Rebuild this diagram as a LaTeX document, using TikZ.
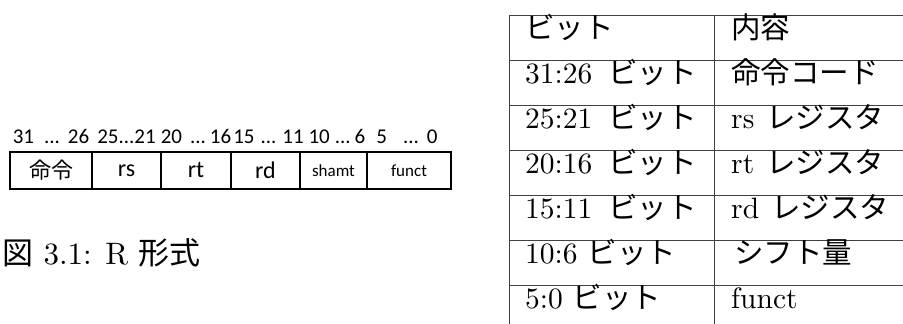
\documentclass[tikz,border=0pt]{standalone}
\usepackage{fontspec}
\setmainfont{lmroman10-regular.otf}
\newfontfamily\jpfont{Noto Sans CJK JP}
\newfontfamily\calfont{Carlito}
\newcommand\ja[1]{{\jpfont #1}}
\newcommand\gap[1]{\hspace{#1pt}}
\usetikzlibrary{positioning}

\begin{document}
\begin{tikzpicture}[x=1pt, y=1pt,
  field/.style={rectangle, draw, line width=1.8pt, minimum height=37pt, inner sep=0pt, outer sep=0pt, font=\calfont\fontsize{24}{28}\selectfont},
  smallfield/.style={field, font=\calfont\fontsize{17}{20}\selectfont},
  bitlabel/.style={inner sep=0pt, font=\calfont\fontsize{21}{24}\selectfont},
  cell/.style={anchor=base west, inner sep=0pt, font=\fontsize{29.5}{34}\selectfont},
  rule/.style={line width=0.9pt, black!75},
]
  \useasboundingbox (0,0) rectangle (903,324);
  % R-format fields
  \node[field, minimum width=82pt, font=\jpfont\fontsize{22}{24}\selectfont] (op) at (51,153.5) {命令};
  \node[field, minimum width=69pt, right=0pt of op] (rs) {rs};
  \node[field, minimum width=70pt, right=0pt of rs] (rt) {rt};
  \node[field, minimum width=69pt, right=0pt of rt] (rd) {rd};
  \node[smallfield, minimum width=67pt, right=0pt of rd] (shamt) {shamt};
  \node[smallfield, minimum width=84pt, right=0pt of shamt] (funct) {funct};
  % bit ranges
  \node[bitlabel, above=8pt of op] (b-op) {31\gap{10}...\gap{8}26};
  \node[bitlabel, above=8pt of rs] (b-rs) {25...21};
  \node[bitlabel, above=8pt of rt] (b-rt) {20\gap{8}...\gap{4}16};
  \node[bitlabel, above=8pt of rd, xshift=3pt] (b-rd) {15\gap{6}...\gap{6}11};
  \node[bitlabel, above=8pt of shamt, xshift=3.5pt] (b-shamt) {10\gap{5}...\gap{4}6};
  \node[bitlabel, above=8pt of funct, xshift=-2pt] (b-funct) {5\gap{16}...\gap{8}0};
  % caption
  \node[anchor=base west, inner sep=0pt, font=\fontsize{31}{36}\selectfont] (caption) at (2,59) {\ja{図} 3.1: R \ja{形式}};
  % table
  \draw[rule] (509,309) -- (509,0) (714,309) -- (714,0);
  \foreach \y in {309,264,...,39}
    \draw[rule] (509,\y) -- (903,\y);
  \foreach \bits/\desc [count=\i] in {
      \ja{ビット}/\ja{内容},
      31:26\gap{16}\ja{ビット}/\ja{命令コード},
      25:21\gap{16}\ja{ビット}/rs\gap{12}\ja{レジスタ},
      20:16\gap{16}\ja{ビット}/rt\gap{12}\ja{レジスタ},
      15:11\gap{16}\ja{ビット}/rd\gap{12}\ja{レジスタ},
      10:6\gap{10}\ja{ビット}/\gap{3}\ja{シフト量},
      5:0\gap{10}\ja{ビット}/funct} {
    \node[cell] (bits-\i) at (525,330.5-45*\i) {\bits};
    \node[cell] (desc-\i) at (731,330.5-45*\i) {\desc};
  }
\end{tikzpicture}
\end{document}
